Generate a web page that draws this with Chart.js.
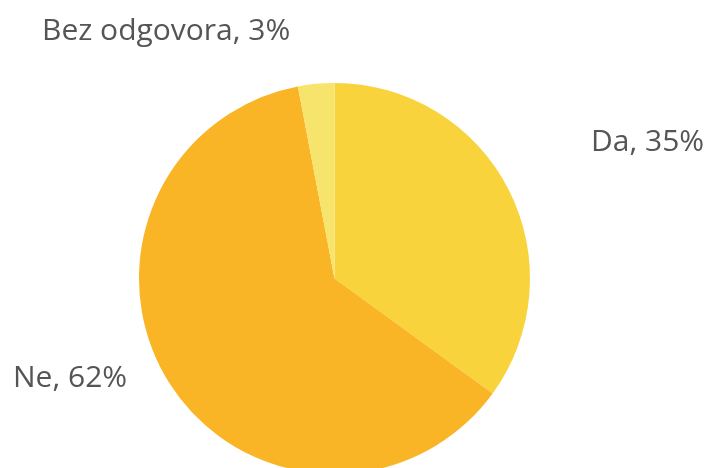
<!DOCTYPE html>
<html>
<head>
<meta charset="utf-8">
<script src="https://cdn.jsdelivr.net/npm/chart.js@4/dist/chart.umd.min.js"></script>
<style>
    html, body { margin: 0; padding: 0; background: #fff; overflow: hidden; }
    #wrap { position: absolute; left: 0; top: 0; width: 709px; height: 480px; }
</style>
</head>
<body>
<div id="wrap"><canvas id="pieChart" width="709" height="480"></canvas></div>
<script>
// Data
const categories = ['Da', 'Ne', 'Bez odgovora'];
const shares = [35, 62, 3];
const sliceColors = ['#F9D33B', '#F9B526', '#F6E46C'];

// Label placement (left x / baseline y, text alignment)
const labelSpots = [
    { x: 591, y: 151, align: 'left' },
    { x: 13, y: 387, align: 'left' },
    { x: 42, y: 40, align: 'left' },
];

const sliceLabels = {
    id: 'sliceLabels',
    afterDraw(chart) {
        const ctx = chart.ctx;
        ctx.save();
        ctx.font = '30px "Open Sans"';
        ctx.fillStyle = '#555555';
        ctx.textBaseline = 'alphabetic';
        chart.data.labels.forEach((name, i) => {
            const spot = labelSpots[i];
            ctx.textAlign = spot.align;
            ctx.fillText(`${name}, ${chart.data.datasets[0].data[i]}%`, spot.x, spot.y);
        });
        ctx.restore();
    }
};

new Chart(document.getElementById('pieChart'), {
    type: 'pie',
    data: {
        labels: categories,
        datasets: [{
            data: shares,
            backgroundColor: sliceColors,
            borderWidth: 0,
        }]
    },
    options: {
        responsive: false,
        animation: false,
        layout: {
            padding: { left: 139, right: 179, top: 83, bottom: 6 }
        },
        plugins: {
            legend: { display: false },
            tooltip: { enabled: false },
        }
    },
    plugins: [sliceLabels]
});
</script>
</body>
</html>
